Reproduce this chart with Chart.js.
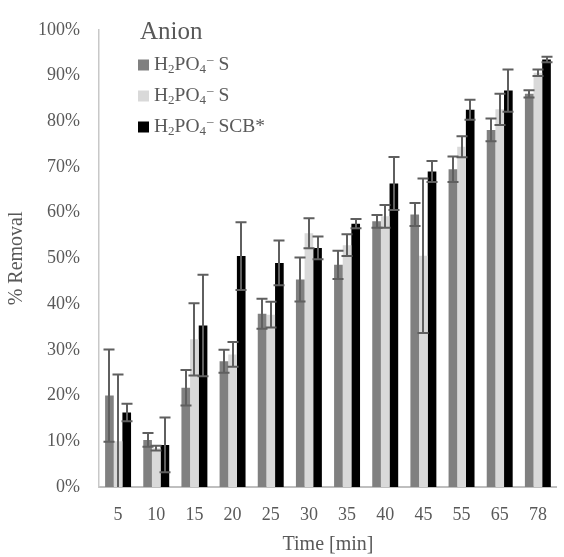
<!DOCTYPE html>
<html>
<head>
<meta charset="utf-8">
<script src="https://cdn.jsdelivr.net/npm/chart.js@4.4.1/dist/chart.umd.min.js"></script>
<style>
  body { margin: 0; background: #fff; }
  #wrap { width: 564px; height: 557px; }
</style>
</head>
<body>
<div id="wrap"><canvas id="mycanvas"></canvas></div>
<script>
// time points (min)
var times = ['5', '10', '15', '20', '25', '30', '35', '40', '45', '55', '65', '78'];
var seriesNames = ['H₂PO₄⁻ S', 'H₂PO₄⁻ S', 'H₂PO₄⁻ SCB*'];
var legendTitle = 'Anion';

// % removal
var removalS1 = [20.0, 10.3, 21.7, 27.5, 37.9, 45.4, 48.6, 58.1, 59.6, 69.5, 78.1, 86.0];
var errorS1   = [10.1, 1.5, 3.9, 2.5, 3.3, 4.8, 3.1, 1.4, 2.5, 2.8, 2.5, 0.8];
var removalS2 = [10.0, 8.5, 32.3, 29.0, 37.7, 55.5, 52.9, 59.2, 50.6, 74.4, 82.6, 90.6];
var errorS2   = [14.6, 0.5, 7.9, 2.7, 2.8, 3.3, 2.4, 2.5, 16.9, 2.3, 3.4, 0.7];
var removalSCB = [16.3, 9.2, 35.3, 50.5, 49.0, 52.3, 57.6, 66.4, 69.0, 82.5, 86.7, 93.5];
var errorSCB   = [1.9, 6.0, 11.1, 7.4, 4.9, 2.5, 1.0, 5.8, 2.3, 2.2, 4.6, 0.6];

var yTicks = [0, 10, 20, 30, 40, 50, 60, 70, 80, 90, 100];

var FONT = "'Liberation Serif', 'Times New Roman', serif";
var TXT = '#595959';

// draws error bars on top of every bar
var errorBars = {
    id: 'errorBars',
    afterDatasetsDraw: function(chart) {
        var ctx = chart.ctx;
        var ys = chart.scales.y;
        ctx.save();
        ctx.strokeStyle = '#5f5f5f';
        ctx.lineWidth = 2;
        chart.data.datasets.forEach(function(ds, i) {
            var meta = chart.getDatasetMeta(i);
            meta.data.forEach(function(bar, j) {
                var v = ds.data[j], e = ds.errors[j];
                var top = ys.getPixelForValue(v + e);
                var lowVal = v - e;
                var bot = ys.getPixelForValue(Math.max(0, lowVal));
                var x = Math.round(bar.x);
                ctx.beginPath();
                ctx.moveTo(x, top);
                ctx.lineTo(x, bot);
                ctx.moveTo(x - 5.5, top);
                ctx.lineTo(x + 5.5, top);
                if (lowVal > 0) {
                    ctx.moveTo(x - 5.5, bot);
                    ctx.lineTo(x + 5.5, bot);
                }
                ctx.stroke();
            });
        });
        ctx.restore();
    }
};

// writes a label with unicode sub/superscripts as small shifted text
function drawChem(ctx, str, x, y, size) {
    var subs = '₀₁₂₃₄₅₆₇₈₉';
    for (var k = 0; k < str.length; k++) {
        var c = str[k];
        var si = subs.indexOf(c);
        if (si >= 0) {
            ctx.font = Math.round(size * 0.65) + 'px ' + FONT;
            ctx.fillText(String(si), x, y + size * 0.22);
            x += ctx.measureText(String(si)).width;
        } else if (c === '⁻') {
            ctx.font = Math.round(size * 0.65) + 'px ' + FONT;
            ctx.fillText('–', x + 1, y - size * 0.3);
            x += ctx.measureText('–').width + 1;
        } else {
            ctx.font = size + 'px ' + FONT;
            ctx.fillText(c, x, y);
            x += ctx.measureText(c).width;
        }
    }
}

// legend drawn inside the plot area, top left
var innerLegend = {
    id: 'innerLegend',
    afterDraw: function(chart) {
        var ctx = chart.ctx;
        ctx.save();
        ctx.fillStyle = TXT;
        ctx.textBaseline = 'middle';
        ctx.textAlign = 'left';
        ctx.font = '25px ' + FONT;
        ctx.fillText(legendTitle, 140, 32);
        var rows = [65, 96, 127];
        chart.data.datasets.forEach(function(ds, i) {
            ctx.fillStyle = ds.backgroundColor;
            ctx.fillRect(138, rows[i] - 5.5, 11, 11);
            ctx.fillStyle = TXT;
            drawChem(ctx, ds.label, 154, rows[i], 19.5);
        });
        ctx.restore();
    }
};

var ctx = document.getElementById('mycanvas');
var myChart = new Chart(ctx, {
    type: 'bar',
    data: {
        labels: times,
        datasets: [
            { label: seriesNames[0], data: removalS1, errors: errorS1, backgroundColor: '#808080' },
            { label: seriesNames[1], data: removalS2, errors: errorS2, backgroundColor: '#d9d9d9' },
            { label: seriesNames[2], data: removalSCB, errors: errorSCB, backgroundColor: '#000000' }
        ]
    },
    options: {
        responsive: true,
        maintainAspectRatio: false,
        animation: false,
        layout: { padding: { top: 22, right: 3, left: 0, bottom: 0 } },
        datasets: { bar: { barPercentage: 1, categoryPercentage: 0.68 } },
        plugins: {
            legend: { display: false },
            tooltip: { enabled: false }
        },
        scales: {
            x: {
                grid: { display: false, drawTicks: false },
                border: { display: true, color: '#bfbfbf', width: 2 },
                ticks: { color: TXT, font: { family: FONT, size: 18 }, padding: 17 },
                title: { display: true, text: 'Time [min]', color: TXT, font: { family: FONT, size: 20 }, padding: { top: 0, bottom: 0 } },
                afterFit: function(s) { s.height = 70; }
            },
            y: {
                min: 0,
                max: 100,
                afterBuildTicks: function(s) { s.ticks = yTicks.map(function(v) { return { value: v }; }); },
                grid: { display: false, drawTicks: false },
                border: { display: true, color: '#c8c8c8', width: 1.5 },
                ticks: {
                    color: TXT,
                    font: { family: FONT, size: 18 },
                    padding: 19,
                    callback: function(v) { return v + '%'; }
                },
                title: { display: true, text: '% Removal', color: TXT, font: { family: FONT, size: 20 }, padding: { top: 5, bottom: 4 } },
                afterFit: function(s) { s.width = 99; }
            }
        }
    },
    plugins: [errorBars, innerLegend]
});
</script>
</body>
</html>
